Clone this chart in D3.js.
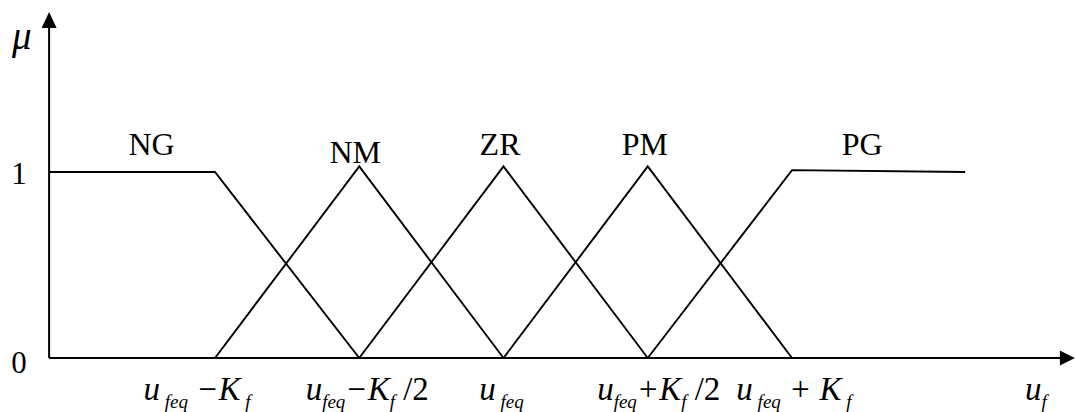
<!DOCTYPE html>
<html>
<head>
<meta charset="utf-8">
<script src="https://cdn.jsdelivr.net/npm/d3@7"></script>
<style>
  body { margin: 0; background: #fff; }
  svg { display: block; }
  text { font-family: "Liberation Serif", "Times New Roman", serif; fill: #000; }
</style>
</head>
<body>
<svg id="chart" width="1075" height="412"></svg>
<script>
  // membership function sets (x in units of K_f around u_feq, y = mu)
  const setNames = ["NG", "NM", "ZR", "PM", "PG"];
  const NG = [[-1.575, 1], [-1, 1], [-0.5, 0]];
  const NM = [[-1, 0], [-0.5, 1.03], [0, 0]];
  const ZR = [[-0.5, 0], [0, 1.03], [0.5, 0]];
  const PM = [[0, 0], [0.5, 1.03], [1, 0]];
  const PG = [[0.5, 0], [1, 1.01], [1.6, 1]];
  const setPoints = [NG, NM, ZR, PM, PG];
  const labelAt = [-1.22, -0.514, -0.012, 0.49, 1.243];

  const yTicks = [0, 1];
  const xTicks = [-1, -0.5, 0, 0.5, 1];
  // tick labels as [text, isSub] pieces
  const xTickLabels = [
    [["u", 0], [" feq", 1], [" \u2212K", 0], [" f", 1]],
    [["u", 0], ["feq", 1], ["\u2212K", 0], ["f", 1], [" /2", 0]],
    [["u", 0], [" feq", 1]],
    [["u", 0], ["feq", 1], ["+K", 0], ["f", 1], [" /2", 0]],
    [["u", 0], [" feq", 1], [" + K", 0], [" f", 1]]
  ];

  const svg = d3.select("#chart");
  const x = d3.scaleLinear().domain([-1, 1]).range([215, 792]);
  const y = d3.scaleLinear().domain([0, 1]).range([358, 172]);
  const xMin = -1.575, xMax = 1.97;

  // axes
  svg.append("line")
    .attr("x1", x(xMin)).attr("y1", y(0))
    .attr("x2", x(xMax) - 8).attr("y2", y(0))
    .attr("stroke", "#000").attr("stroke-width", 2);
  svg.append("path")
    .attr("d", `M${x(xMax) + 3},${y(0)} L${x(xMax) - 12},${y(0) - 7.5} L${x(xMax) - 12},${y(0) + 7.5} Z`)
    .attr("fill", "#000");

  svg.append("line")
    .attr("x1", x(xMin)).attr("y1", y(0))
    .attr("x2", x(xMin)).attr("y2", 24)
    .attr("stroke", "#000").attr("stroke-width", 2);
  svg.append("path")
    .attr("d", `M${x(xMin)},12 L${x(xMin) - 7.5},28 L${x(xMin) + 7.5},28 Z`)
    .attr("fill", "#000");

  svg.append("text")
    .attr("x", 12).attr("y", 49)
    .attr("font-size", 39).attr("font-style", "italic")
    .text("\u03bc");

  svg.selectAll(".ytick")
    .data(yTicks).enter().append("text")
    .attr("class", "ytick")
    .attr("x", 19).attr("y", d => y(d) + (d === 0 ? 15 : 12))
    .attr("text-anchor", "middle")
    .attr("font-size", 31)
    .text(d => d);

  // membership lines
  const line = d3.line().x(d => x(d[0])).y(d => y(d[1]));
  svg.selectAll(".mf")
    .data(setPoints).enter().append("path")
    .attr("class", "mf")
    .attr("d", line)
    .attr("fill", "none")
    .attr("stroke", "#000")
    .attr("stroke-width", 1.9);

  svg.selectAll(".setlbl")
    .data(setNames).enter().append("text")
    .attr("class", "setlbl")
    .attr("x", (d, i) => x(labelAt[i]))
    .attr("y", (d, i) => i === 1 ? 163 : 155)
    .attr("text-anchor", "middle")
    .attr("font-size", 32)
    .text(d => d);

  // x tick labels
  const tl = svg.selectAll(".xtick")
    .data(xTickLabels).enter().append("text")
    .attr("class", "xtick")
    .attr("x", (d, i) => x(xTicks[i]) + [-18, 8, -2, 11, 2][i])
    .attr("y", 400)
    .attr("text-anchor", "middle")
    .attr("font-style", "italic")
    .attr("font-size", 33)
    .attr("xml:space", "preserve");
  tl.each(function(parts) {
    const t = d3.select(this);
    let wasSub = false;
    parts.forEach(p => {
      const s = t.append("tspan").text(p[0]);
      if (p[0].indexOf("/2") >= 0) s.attr("font-style", "normal");
      if (p[1]) { s.attr("font-size", 19).attr("dy", 8); wasSub = true; }
      else if (wasSub) { s.attr("dy", -8); wasSub = false; }
    });
  });

  svg.append("text")
    .attr("x", 1036).attr("y", 400)
    .attr("text-anchor", "middle")
    .attr("font-style", "italic").attr("font-size", 33)
    .call(t => {
      t.append("tspan").text("u");
      t.append("tspan").attr("font-size", 19).attr("dy", 8).text("f");
    });
</script>
</body>
</html>
